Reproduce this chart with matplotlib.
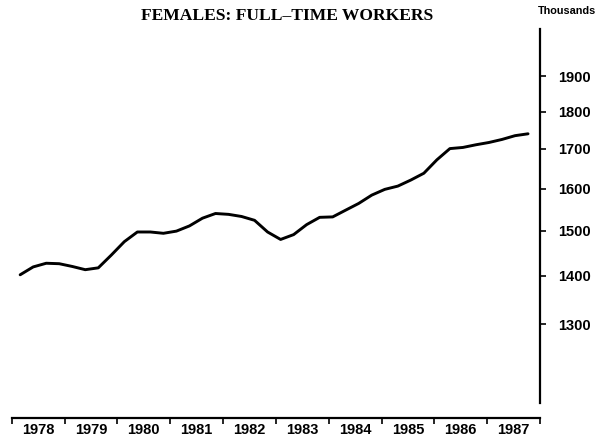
import numpy as np
import matplotlib
matplotlib.use("Agg")
import matplotlib.pyplot as plt
from matplotlib.ticker import FixedLocator, NullLocator, NullFormatter, FixedFormatter

# quarterly series, 1978 Q1 .. 1987 Q4 (thousands)
workers = [1402, 1419, 1427, 1426, 1420, 1413, 1417, 1445,
           1475, 1497, 1497, 1494, 1499, 1511, 1529, 1540,
           1538, 1533, 1524, 1497, 1480, 1491, 1514, 1531,
           1532, 1548, 1564, 1584, 1598, 1606, 1621, 1638,
           1672, 1701, 1704, 1711, 1717, 1725, 1735, 1740]
years = list(range(1978, 1988))
ytick_vals = [1300, 1400, 1500, 1600, 1700, 1800, 1900]

t = 1978.16 + np.arange(len(workers)) * 0.2465

fig = plt.figure(figsize=(6.11, 4.43), dpi=100)
ax = fig.add_axes([11.7/611, 1 - 403/443, (540 - 11.7)/611, (403 - 29)/443])

ax.plot(t, workers, color="black", lw=2.1, solid_capstyle="round", solid_joinstyle="round")

ax.set_yscale("log")
ax.set_ylim(1152, 2043)
ax.set_xlim(1978, 1988)

for s in ["left", "top"]:
    ax.spines[s].set_visible(False)
ax.spines["right"].set_linewidth(1.6)
ax.spines["bottom"].set_linewidth(1.6)
ax.spines["bottom"].set_position(("outward", 10.5))

ax.yaxis.tick_right()
ax.yaxis.set_major_locator(FixedLocator(ytick_vals))
ax.yaxis.set_major_formatter(FixedFormatter([str(v) for v in ytick_vals]))
ax.yaxis.set_minor_locator(NullLocator())
ax.yaxis.set_minor_formatter(NullFormatter())
ax.tick_params(axis="y", which="major", direction="out", length=4.3, width=1.2, pad=9,
               labelsize=10.5)
for lab in ax.get_yticklabels():
    lab.set_fontfamily("Liberation Sans")
    lab.set_fontweight("bold")

ax.xaxis.set_major_locator(FixedLocator(years + [1988]))
ax.xaxis.set_major_formatter(NullFormatter())
ax.xaxis.set_minor_locator(FixedLocator([y + 0.5 for y in years]))
ax.xaxis.set_minor_formatter(FixedFormatter([str(y) for y in years]))
ax.tick_params(axis="x", which="major", direction="out", length=4.0, width=1.2)
ax.tick_params(axis="x", which="minor", length=0, pad=4, labelsize=10.5)
for lab in ax.xaxis.get_minorticklabels():
    lab.set_fontfamily("Liberation Sans")
    lab.set_fontweight("bold")

fig.text(287/611, 1 - 16/443, "FEMALES: FULL\u2013TIME WORKERS", ha="center", va="center",
         fontsize=12.6, fontweight="bold", family="Liberation Serif")
fig.text(567/611, 1 - 11/443, "Thousands", ha="center", va="center",
         fontsize=7.8, fontweight="bold", family="Liberation Sans")

fig.savefig("out.png", dpi=100, facecolor="white")
